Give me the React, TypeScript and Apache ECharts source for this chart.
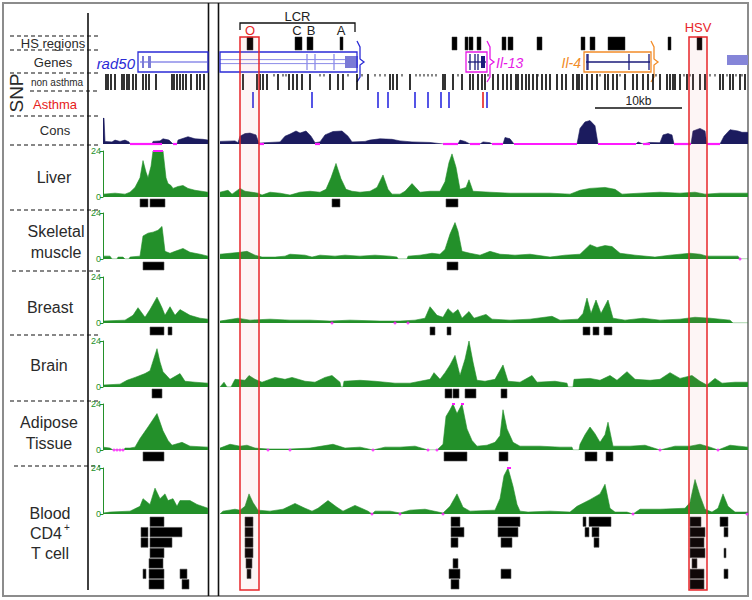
import React, { useEffect, useRef } from "react";
import * as echarts from "echarts";

// Genomic positions are in bins of 115 bp (10 kb = 87 bins).
const LEFT_SPAN = 105;
const RIGHT_SPAN = 528;
const SCALE_BAR = [375, 462];
const SCALE_LABEL = "10kb";

const HS_REGIONS = [[27,33],[75,82],[87,93],[120,123],[232,237],[245,248],[249,253],[257,261],[282,286],[288,293],[317,322],[361,365],[370,375],[388,405],[448,451],[477,482]];
const HS_SITE_POS = [30, 77, 91, 121];
const HS_SITE_NAMES = ["O", "C", "B", "A"];
const LCR_RANGE = [20, 135];
const HIGHLIGHTS = [[20, 39], [469, 487]];
const HIGHLIGHT_NAMES = ["", "HSV"];

const SNP_LEFT = [3,5,8,12,19,21,24,26,30,33,40,43,46,53,69,71,74,77,80,83,88,94,97,101];
const SNP_RIGHT = [23,37,40,43,47,58,69,73,77,82,90,110,118,123,137,148,170,173,177,190,223,225,233,242,250,253,258,262,265,273,278,283,287,291,296,298,302,306,309,313,317,322,326,330,337,342,346,353,357,359,362,367,372,377,385,388,393,397,405,413,417,423,428,433,440,447,450,453,455,460,467,473,480,485,500,503,510,513,520,525];
const SNP_RIGHT_MINOR = [54,63,66,100,104,128,142,155,160,165,182,196,200,204,208,212,216,238,268,318,380,400,436,464,470,490,495,507,516,522];
const ASTHMA_SNP = [33, 92, 158, 168, 195, 208, 221, 229, 267];
const ASTHMA_SNP_LEAD = [263];

const CONS_L = [[0,1],[1,1],[2,0.1],[9,0.08],[12,0.15],[17,0.1],[22,0.15],[26,0.08],[27,0],[49,0],[50,0.1],[57,0.12],[60,0.2],[66,0.15],[70,0],[74,0],[75,0.15],[85,0.28],[92,0.2],[100,0.18],[105,0.15]];
const CONS_R = [[0,0.1],[15,0.12],[18,0.05],[20,0.3],[25,0.4],[30,0.42],[36,0.35],[39,0.03],[45,0.05],[60,0.08],[65,0.3],[70,0.38],[76,0.5],[80,0.42],[86,0.5],[91,0.3],[95,0.05],[100,0.08],[105,0.35],[113,0.48],[122,0.5],[128,0.3],[132,0.08],[145,0.1],[150,0.15],[160,0.2],[172,0.18],[180,0.12],[192,0.08],[210,0.06],[223,0],[238,0],[240,0.15],[245,0.1],[250,0],[260,0],[263,0.08],[270,0.05],[272,0],[283,0],[285,0.25],[290,0.2],[294,0],[357,0],[360,0.6],[365,0.85],[370,0.9],[375,0.7],[378,0],[416,0],[418,0.08],[423,0],[430,0.06],[440,0.05],[443,0.35],[448,0.4],[452,0.35],[454,0],[471,0],[473,0.5],[480,0.6],[485,0.5],[487,0],[500,0],[504,0.3],[510,0.55],[518,0.5],[522,0.45],[528,0.45]];
const CONS_GAPS_L = [[27,49],[49,59],[70,74]];
const CONS_GAPS_R = [[39,44],[95,100],[223,238],[250,260],[272,283],[294,357],[378,416],[423,430],[454,471],[487,500]];

const LIVER_L = [[0,1.5],[12,2],[22,1.5],[27,2.5],[32,5],[37,10],[40,19],[43,13],[45,10],[48,16],[50,24],[55,24],[60,24],[63,10],[65,7],[68,6],[70,4.5],[75,5.5],[80,6],[85,4.5],[92,3.5],[105,2.5]];
const LIVER_R = [[0,2.5],[8,3.5],[12,1.5],[20,4.5],[25,3],[38,2],[42,1],[50,2.5],[60,2],[70,1],[80,2.5],[90,3],[100,2.5],[106,4],[111,10],[116,17.5],[121,9.5],[126,4],[132,3],[140,2.5],[150,3],[157,5],[163,11.5],[168,4],[172,1.5],[180,1.5],[185,3],[192,7],[200,2.5],[210,3],[220,3],[225,8],[229,18],[232,22.5],[236,15.5],[240,4],[246,5],[249,9],[253,3],[270,2.5],[290,2],[310,2],[330,2],[350,1.5],[360,3.5],[370,4.5],[385,5],[395,4],[402,1.5],[420,2],[440,2.5],[460,2],[475,2.5],[485,1.5],[500,2],[528,2]];
const SKEL_L = [[0,1.5],[7,1.5],[9,0],[14,0],[15,1],[20,1],[22,0],[26,0],[27,1],[37,1.5],[40,12],[45,13.5],[50,14],[55,15],[59,17],[62,4],[67,3],[72,4],[80,5.5],[87,3.5],[97,2.5],[105,1.5]];
const SKEL_R = [[0,2.5],[10,3],[20,3.5],[27,4],[35,2],[42,1],[55,1],[65,1.5],[70,2.5],[85,2],[92,1],[100,2],[115,1.5],[125,2],[140,1.5],[155,2],[170,1.5],[177,1],[178,0],[187,0],[188,1.5],[200,2],[212,3],[220,2.5],[225,5],[230,13],[235,19],[238,14.5],[242,4],[250,3],[260,2],[270,4],[280,2.5],[295,2],[310,2.5],[330,1],[345,2],[360,2.5],[370,7.5],[377,6],[385,7],[392,6.5],[400,3],[415,2],[435,1],[450,2],[470,3],[480,2.5],[487,1.5],[500,1.5],[518,1.5],[520,0],[528,0]];
const BREAST_L = [[0,1],[22,1.5],[30,4],[35,8],[42,3],[47,7],[54,13.5],[59,8],[62,4],[67,8.5],[72,4],[77,7],[87,4],[97,2.5],[105,2]];
const BREAST_R = [[0,1],[18,2.5],[30,1.5],[50,2],[70,1.5],[90,1.5],[110,1],[130,1.5],[160,1],[180,1],[195,1.5],[205,2.5],[210,8.5],[217,4],[223,3],[228,7.5],[233,5],[238,7],[242,2.5],[249,6],[254,2.5],[266,4.5],[272,2],[290,1.5],[310,2],[332,3.5],[340,1.5],[358,2],[363,5],[367,13],[371,5],[376,12],[381,5],[388,12],[393,2.5],[405,1.5],[423,2.5],[440,1.5],[460,2],[475,3],[490,2.5],[510,1.5],[513,0],[528,0]];
const BRAIN_L = [[0,1],[17,1.5],[24,3.5],[32,5],[42,7],[47,8.5],[54,20],[57,13],[60,8],[67,4],[77,7],[82,3],[92,2.5],[105,2]];
const BRAIN_R = [[0,0],[4,2.5],[7,0],[11,0],[15,4],[25,3.5],[29,6],[35,4],[42,2.5],[55,5],[65,4],[72,5],[85,3],[95,2.5],[105,5],[112,6],[120,2.5],[121,0],[123,0],[124,3],[140,3.5],[155,3],[165,2.5],[175,2],[190,2],[200,3],[210,4],[214,7.5],[220,4],[225,7.5],[230,11.5],[235,16.5],[240,6],[245,14.5],[249,24],[253,13],[257,3.5],[265,3],[275,4],[283,11.5],[288,3],[300,2.5],[312,6],[317,2.5],[335,3],[347,2],[348,0],[353,0],[354,4],[370,4.5],[380,3.5],[390,6],[397,3.5],[407,8],[415,4],[430,3.5],[440,4],[450,7.5],[460,4.5],[472,6],[480,3],[487,1],[495,4.5],[502,2],[515,2.5],[528,2.5]];
const ADIPOSE_L = [[0,1.5],[7,1],[10,0],[21,0],[22,1],[27,1],[32,1.5],[37,6],[45,12],[54,19],[60,10],[65,5],[69,2.5],[79,4],[87,2],[105,1.5]];
const ADIPOSE_R = [[0,1],[10,3],[20,2],[27,2.5],[35,1],[48,0.5],[70,0.5],[90,1],[113,3],[125,1],[140,1.5],[153,0],[165,1.5],[180,1.5],[195,2],[208,0],[217,0],[223,3],[226,17.5],[230,21],[233,24],[237,19],[242,24],[247,11],[252,5],[257,2],[267,2.5],[275,4],[280,7.5],[283,21],[287,11],[293,4],[300,2],[320,2],[340,1.5],[352,1.5],[353,0],[359,0],[360,3],[365,8],[370,12],[375,8.5],[380,4],[385,8],[388,14.5],[393,2],[410,2],[425,2.5],[440,0],[455,2],[470,2],[480,3],[490,1.5],[498,0],[510,2.5],[528,1.5]];
const BLOOD_L = [[0,0.5],[7,1],[27,1.5],[37,4],[40,8],[47,5],[52,13.5],[57,8],[62,10.5],[65,7],[70,8],[74,4],[77,7],[87,7],[94,5],[105,3]];
const BLOOD_R = [[0,0],[3,1.5],[15,2.5],[20,2],[25,4],[29,10.5],[33,6],[38,2],[50,1.5],[63,2.5],[75,5.5],[85,3],[92,1.5],[98,3],[108,7],[117,3.5],[123,1.5],[135,4.5],[148,1.5],[152,0],[155,1.5],[170,1.5],[180,0.5],[190,2],[205,2.5],[223,0.5],[230,4],[237,10.5],[243,3.5],[250,1.5],[275,2],[280,8],[284,20],[288,24],[293,14.5],[297,5],[300,1.5],[308,1],[330,1.5],[350,1],[357,4],[370,7.5],[380,10.5],[385,15.5],[390,3],[395,1],[407,1],[413,0],[420,2.5],[440,2.5],[465,3],[470,6],[475,18],[480,9.5],[485,2.5],[492,1],[498,3],[503,10.5],[508,4],[515,1],[528,1]];

// [start, end, row]
const LIVER_PEAKS_L = [[37,45,0],[47,62,0]];
const LIVER_PEAKS_R = [[112,120,0],[226,238,0]];
const SKEL_PEAKS_L = [[40,61,0]];
const SKEL_PEAKS_R = [[227,238,0]];
const BREAST_PEAKS_L = [[47,61,0],[65,69,0]];
const BREAST_PEAKS_R = [[210,215,0],[227,231,0],[363,370,0],[373,379,0],[384,392,0]];
const BRAIN_PEAKS_L = [[49,59,0]];
const BRAIN_PEAKS_R = [[225,232,0],[233,239,0],[245,256,0],[281,287,0]];
const ADIPOSE_PEAKS_L = [[40,61,0]];
const ADIPOSE_PEAKS_R = [[224,247,0],[279,288,0],[365,377,0],[386,393,0]];
const BLOOD_PEAKS_L = [[47,61,0],[38,45,1],[47,79,1],[38,45,2],[47,69,2],[47,61,3],[46,60,4],[40,43,5],[46,61,5],[77,84,5],[46,61,6],[79,86,6]];
const BLOOD_PEAKS_R = [[25,33,0],[231,240,0],[278,300,0],[363,366,0],[369,391,0],[470,481,0],[500,508,0],
  [25,33,1],[231,244,1],[278,298,1],[365,369,1],[372,379,1],[470,485,1],[504,508,1],
  [25,33,2],[231,238,2],[281,292,2],[374,379,2],[470,484,2],
  [25,33,3],[470,485,3],[504,506,3],
  [26,32,4],[233,238,4],[472,477,4],
  [27,31,5],[229,240,5],[281,291,5],[470,484,5],[504,508,5],
  [231,239,6],[470,484,6]];

const ZERO_MARKS_R = [[], [520], [112, 175, 188], [], [48, 70, 153, 208, 217, 440, 498], [152, 180, 223, 413, 527]];
const ZERO_MARKS_L = [[], [], [], [], [11, 14, 17, 20], []];
const CLIPPED_L = [[[50, 60]], [], [], [], [], []];
const CLIPPED_R = [[], [], [], [], [[232, 235], [241, 244]], [[287, 291]]];

const TISSUE_NAMES = ["Liver", "Skeletal muscle", "Breast", "Brain", "Adipose Tissue", "Blood CD4+ T cell"];
const SIGNALS_L = [LIVER_L, SKEL_L, BREAST_L, BRAIN_L, ADIPOSE_L, BLOOD_L];
const SIGNALS_R = [LIVER_R, SKEL_R, BREAST_R, BRAIN_R, ADIPOSE_R, BLOOD_R];
const PEAKS_L = [LIVER_PEAKS_L, SKEL_PEAKS_L, BREAST_PEAKS_L, BRAIN_PEAKS_L, ADIPOSE_PEAKS_L, BLOOD_PEAKS_L];
const PEAKS_R = [LIVER_PEAKS_R, SKEL_PEAKS_R, BREAST_PEAKS_R, BRAIN_PEAKS_R, ADIPOSE_PEAKS_R, BLOOD_PEAKS_R];
const SIGNAL_MAX = 24;

const GENES_L = [{ name: "rad50", start: 35, end: 105, exons: [[39, 41], [45, 48]], marks: [] as number[], lines: 1, box: true, arrow: false, label: true }];
const GENES_R = [
  { name: "rad50", start: 0, end: 137, exons: [[125, 138]], marks: [87, 95, 114], lines: 2, box: true, arrow: true, label: false },
  { name: "Il-13", start: 246, end: 267, exons: [[261, 265]], marks: [250, 255, 258], lines: 1, box: true, arrow: true, label: true },
  { name: "Il-4", start: 364, end: 431, exons: [] as number[][], marks: [367, 368, 409, 429], lines: 1, box: true, arrow: true, label: true },
  { name: "", start: 507, end: 528, exons: [[507, 528]], marks: [] as number[], lines: 0, box: false, arrow: false, label: false },
];

// ---------- styling ----------
const FONT = "'Liberation Sans', Arial, sans-serif";
const GREEN = "#23902a";
const NAVY = "#1b1b5e";
const MAGENTA = "#ff1aff";
const RED = "#e8262a";
const GENE_STYLE: any = {
  rad50: { box: "#2b2bd6", inner: "#8c8ce8", exon: "#7a7ad6", label: "#2b2bd6", side: "left" },
  "Il-13": { box: "#e619e6", inner: "#1b1b7a", exon: "#1b1b7a", label: "#e619e6", side: "right" },
  "Il-4": { box: "#f28c28", inner: "#1b1b7a", exon: "#1b1b7a", label: "#f28c28", side: "left" },
  "": { box: "#7b7bd8", inner: "#7b7bd8", exon: "#8585d8", label: "#7b7bd8", side: "right" },
};
const PANEL: any = { L: { left: 103, width: 105, span: LEFT_SPAN }, R: { left: 220, width: 528, span: RIGHT_SPAN } };
const SIG_TOPS = [151, 213, 277, 341, 404, 468];
const SIG_H = 46;
const BLOCK_TOPS = [199, 262, 327, 389, 452, 517];
const BLOCK_H = [9, 9, 9, 10, 10, 73];
const BLOCK_ROWS = [1, 1, 1, 1, 1, 7];

function buildOption() {
  const grid: any[] = [], xAxis: any[] = [], yAxis: any[] = [], series: any[] = [];
  const addGrid = (panel: string, top: number, height: number, y: any = {}) => {
    const p = PANEL[panel];
    const i = grid.length;
    grid.push({ left: p.left, top, width: p.width, height, containLabel: false, outerBoundsMode: "none", show: false });
    xAxis.push({ type: "value", gridIndex: i, min: 0, max: p.span, show: false });
    yAxis.push(Object.assign({ type: "value", gridIndex: i, min: 0, max: 1, show: false, splitLine: { show: false } }, y));
    return i;
  };
  const on = (i: number) => ({ xAxisIndex: i, yAxisIndex: i, silent: true });

  const rectRender = (fill: string, stroke: string) => (params: any, api: any) => {
    const a = api.coord([api.value(0), 1]);
    const b = api.coord([api.value(1), 0]);
    return { type: "rect", shape: { x: a[0], y: a[1], width: Math.max(1.5, b[0] - a[0]), height: b[1] - a[1] }, style: { fill, stroke, lineWidth: 0.5 } };
  };
  const tickRender = (color: string, len: number, w: number) => (params: any, api: any) => {
    const a = api.coord([api.value(0), 1]);
    const b = api.coord([api.value(0), 1 - len]);
    return { type: "line", shape: { x1: a[0], y1: a[1], x2: b[0], y2: b[1] }, style: { stroke: color, lineWidth: w } };
  };
  const blockRender = (params: any, api: any) => {
    const r = api.value(2);
    const a = api.coord([api.value(0), r]);
    const b = api.coord([api.value(1), r + 1]);
    return { type: "rect", shape: { x: a[0], y: a[1], width: Math.max(2, b[0] - a[0]), height: b[1] - a[1] - 1 }, style: { fill: "#000", stroke: "#555", lineWidth: 0.6 } };
  };
  const segRender = (color: string, w: number, level: number) => (params: any, api: any) => {
    const a = api.coord([api.value(0), level]);
    const b = api.coord([api.value(1), level]);
    return { type: "line", shape: { x1: a[0], y1: a[1], x2: b[0], y2: b[1] }, style: { stroke: color, lineWidth: w } };
  };
  const geneRender = (genes: any[]) => (params: any, api: any) => {
    const g = genes[api.value(2)];
    const st = GENE_STYLE[g.name];
    const cs = params.coordSys;
    const X = (b: number) => api.coord([b, 0])[0];
    const yT = cs.y, h = cs.height, yB = cs.y + h, yM = cs.y + h / 2;
    const ch: any[] = [];
    const x0 = X(g.start), x1 = X(g.end);
    if (g.lines === 1) ch.push({ type: "line", shape: { x1: x0 + 2, y1: yM, x2: x1 - 1, y2: yM }, style: { stroke: st.inner, lineWidth: 1.3 } });
    if (g.lines === 2) {
      const xe = g.exons.length ? X(g.exons[0][0]) : x1;
      [0.38, 0.58].forEach((f) => ch.push({ type: "line", shape: { x1: x0, y1: yT + h * f, x2: xe, y2: yT + h * f }, style: { stroke: st.inner, lineWidth: 1 } }));
    }
    g.marks.forEach((m: number) => ch.push({ type: "line", shape: { x1: X(m), y1: yT + 2, x2: X(m), y2: yB - 2 }, style: { stroke: st.inner, lineWidth: 1.3 } }));
    g.exons.forEach((e: number[]) => {
      const f0 = g.box ? 0.2 : 0.15, f1 = g.box ? 0.8 : 0.65;
      ch.push({ type: "rect", shape: { x: X(e[0]), y: yT + h * f0, width: X(e[1]) - X(e[0]), height: h * (f1 - f0) }, style: { fill: st.exon } });
    });
    if (g.box) ch.push({ type: "rect", shape: { x: x0, y: yT, width: x1 - x0, height: h }, style: { fill: "none", stroke: st.box, lineWidth: 1.3 } });
    if (g.arrow) {
      const xe = x1;
      ch.push({ type: "polyline", shape: { points: [[xe, yT - 11], [xe + 3, yT - 5], [xe + 3, yM - 3], [xe + 7, yM], [xe + 3, yM + 3], [xe + 3, yB + 5], [xe, yB + 10]] }, style: { stroke: st.box, lineWidth: 1.3, fill: "none" } });
    }
    if (g.label) {
      const left = st.side === "left";
      ch.push({ type: "text", x: left ? x0 - 3 : x1 + 9, y: yM + 1, style: { text: g.name, font: `italic ${g.name === "rad50" ? 15 : 14}px ${FONT}`, fill: st.label, align: left ? "right" : "left", verticalAlign: "middle", textAlign: left ? "right" : "left", textVerticalAlign: "middle" } });
    }
    return { type: "group", children: ch };
  };

  // ---- top labels (LCR, HS sites) ----
  const gTop = addGrid("R", 8, 28);
  series.push({ type: "custom", ...on(gTop), data: [LCR_RANGE], encode: { x: [0, 1] }, renderItem: (params: any, api: any) => {
    const cs = params.coordSys;
    const a = api.coord([api.value(0), 0])[0], b = api.coord([api.value(1), 0])[0];
    const y = cs.y + 15;
    return { type: "group", children: [
      { type: "polyline", shape: { points: [[a, y + 7], [a, y], [b, y], [b, y + 9]] }, style: { stroke: "#111", lineWidth: 1.3, fill: "none" } },
      { type: "text", x: (a + b) / 2, y: cs.y + 8, style: { text: "LCR", font: `13px ${FONT}`, fill: "#222", align: "center", verticalAlign: "middle", textAlign: "center", textVerticalAlign: "middle" } },
    ] };
  } });
  series.push({ type: "custom", ...on(gTop), data: HS_SITE_POS.map((p) => [p, 0]), encode: { x: 0, y: 1 }, renderItem: (params: any, api: any) => {
    const cs = params.coordSys;
    const x = api.coord([api.value(0), 0])[0];
    const name = HS_SITE_NAMES[params.dataIndex];
    return { type: "text", x, y: cs.y + 22, style: { text: name, font: `13px ${FONT}`, fill: name === "O" ? RED : "#222", align: "center", verticalAlign: "middle", textAlign: "center", textVerticalAlign: "middle" } };
  } });
  series.push({ type: "custom", ...on(gTop), data: HIGHLIGHTS, encode: { x: [0, 1] }, renderItem: (params: any, api: any) => {
    const cs = params.coordSys;
    const x = (api.coord([api.value(0), 0])[0] + api.coord([api.value(1), 0])[0]) / 2;
    return { type: "text", x, y: cs.y + 19, style: { text: HIGHLIGHT_NAMES[params.dataIndex], font: `13px ${FONT}`, fill: RED, align: "center", verticalAlign: "middle", textAlign: "center", textVerticalAlign: "middle" } };
  } });

  // ---- HS regions ----
  const gHs = addGrid("R", 37, 13);
  series.push({ type: "custom", ...on(gHs), data: HS_REGIONS, encode: { x: [0, 1] }, renderItem: rectRender("#000", "#333") });

  // ---- genes ----
  const gGenesL = addGrid("L", 52, 20);
  series.push({ type: "custom", ...on(gGenesL), data: GENES_L.map((g, i) => [g.start, g.end, i]), encode: { x: [0, 1] }, renderItem: geneRender(GENES_L) });
  const gGenesR = addGrid("R", 52, 20);
  series.push({ type: "custom", ...on(gGenesR), data: GENES_R.map((g, i) => [g.start, g.end, i]), encode: { x: [0, 1] }, renderItem: geneRender(GENES_R) });

  // ---- SNPs ----
  const gSnpL = addGrid("L", 74, 16);
  series.push({ type: "custom", ...on(gSnpL), data: SNP_LEFT.map((p) => [p, 1]), encode: { x: 0, y: 1 }, renderItem: tickRender("#000", 1, 1.6) });
  const gSnpR = addGrid("R", 74, 16);
  series.push({ type: "custom", ...on(gSnpR), data: SNP_RIGHT.map((p) => [p, 1]), encode: { x: 0, y: 1 }, renderItem: tickRender("#000", 1, 1.6) });
  series.push({ type: "custom", ...on(gSnpR), data: SNP_RIGHT_MINOR.map((p) => [p, 1]), encode: { x: 0, y: 1 }, renderItem: tickRender("#333", 0.15, 1.2) });
  const gAsR = addGrid("R", 92, 16);
  series.push({ type: "custom", ...on(gAsR), data: ASTHMA_SNP.map((p) => [p, 1]), encode: { x: 0, y: 1 }, renderItem: tickRender("#2a2ae0", 1, 1.6) });
  series.push({ type: "custom", ...on(gAsR), data: ASTHMA_SNP_LEAD.map((p) => [p, 1]), encode: { x: 0, y: 1 }, renderItem: tickRender("#e62020", 1, 1.6) });
  series.push({ type: "custom", ...on(gAsR), data: [SCALE_BAR], encode: { x: [0, 1] }, renderItem: (params: any, api: any) => {
    const cs = params.coordSys;
    const a = api.coord([api.value(0), 0])[0], b = api.coord([api.value(1), 0])[0];
    const y = cs.y + cs.height;
    return { type: "group", children: [
      { type: "line", shape: { x1: a, y1: y, x2: b, y2: y }, style: { stroke: "#111", lineWidth: 1.3 } },
      { type: "text", x: (a + b) / 2, y: y - 7, style: { text: SCALE_LABEL, font: `12px ${FONT}`, fill: "#222", align: "center", verticalAlign: "middle", textAlign: "center", textVerticalAlign: "middle" } },
    ] };
  } });

  // ---- conservation ----
  ([["L", CONS_L, CONS_GAPS_L], ["R", CONS_R, CONS_GAPS_R]] as any[]).forEach(([p, d, gaps]) => {
    const gi = addGrid(p, 118, 26);
    series.push({ type: "line", ...on(gi), data: d, symbol: "none", lineStyle: { color: NAVY, width: 0.6 }, areaStyle: { color: NAVY, opacity: 1 }, z: 2 });
    series.push({ type: "custom", ...on(gi), data: gaps, encode: { x: [0, 1] }, renderItem: segRender(MAGENTA, 2.2, 0), z: 3 });
  });

  // ---- tissues ----
  for (let t = 0; t < 6; t++) {
    ["L", "R"].forEach((p) => {
      const left = p === "L";
      const gi = addGrid(p, SIG_TOPS[t], SIG_H, left ? {
        show: true, min: 0, max: SIGNAL_MAX, interval: SIGNAL_MAX,
        axisLine: { show: true, lineStyle: { color: GREEN, width: 1 } },
        axisTick: { show: true, length: 3, lineStyle: { color: GREEN } },
        axisLabel: { show: true, fontSize: 9, color: GREEN, margin: 2, fontFamily: FONT },
        splitLine: { show: false },
      } : { min: 0, max: SIGNAL_MAX });
      series.push({ type: "line", ...on(gi), data: left ? SIGNALS_L[t] : SIGNALS_R[t], symbol: "none", lineStyle: { color: GREEN, width: 0.6 }, areaStyle: { color: GREEN, opacity: 1 }, z: 2 });
      const zeros = left ? ZERO_MARKS_L[t] : ZERO_MARKS_R[t];
      if (zeros.length) series.push({ type: "scatter", ...on(gi), data: zeros.map((z) => [z, 0]), symbolSize: 3, itemStyle: { color: MAGENTA }, z: 3 });
      const clips = left ? CLIPPED_L[t] : CLIPPED_R[t];
      if (clips.length) series.push({ type: "custom", ...on(gi), data: clips, encode: { x: [0, 1] }, renderItem: segRender(MAGENTA, 2, SIGNAL_MAX), z: 3 });
      const gb = addGrid(p, BLOCK_TOPS[t], BLOCK_H[t], { min: 0, max: BLOCK_ROWS[t], inverse: true });
      series.push({ type: "custom", ...on(gb), data: left ? PEAKS_L[t] : PEAKS_R[t], encode: { x: [0, 1], y: 2 }, renderItem: blockRender });
    });
  }

  // ---- highlighted regions ----
  const gOv = addGrid("R", 37, 553);
  series.push({ type: "custom", ...on(gOv), data: HIGHLIGHTS, encode: { x: [0, 1] }, z: 20, renderItem: (params: any, api: any) => {
    const a = api.coord([api.value(0), 1]);
    const b = api.coord([api.value(1), 0]);
    return { type: "rect", shape: { x: a[0], y: a[1], width: b[0] - a[0], height: b[1] - a[1] }, style: { fill: "rgba(220,120,120,0.07)", stroke: RED, lineWidth: 1.5 } };
  } });

  // ---- frame & labels ----
  const txt = (text: string, x: number, y: number, size: number, color = "#2a2a2a", extra: any = {}) => ({
    type: "text", x, y, silent: true, ...extra,
    style: { text, font: `${size}px ${FONT}`, fill: color, align: "center", verticalAlign: "middle", textAlign: "center", textVerticalAlign: "middle" },
  });
  const dashed = (y: number, x1 = 10, x2 = 100) => ({ type: "line", silent: true, shape: { x1, y1: y, x2, y2: y }, style: { stroke: "#111", lineWidth: 1.2, lineDash: [4, 3] } });
  const vline = (x: number, y1: number, y2: number) => ({ type: "line", silent: true, shape: { x1: x, y1, x2: x, y2 }, style: { stroke: "#111", lineWidth: 1.6 } });
  const graphic = [
    { type: "rect", silent: true, shape: { x: 3, y: 3, width: 745, height: 593 }, style: { fill: "none", stroke: "#8c8c8c", lineWidth: 2 } },
    vline(88, 13, 590), vline(208.5, 3, 596), vline(218.5, 3, 596),
    dashed(36), dashed(50), dashed(73), dashed(91, 30), dashed(116), dashed(145), dashed(210), dashed(271, 12), dashed(335), dashed(401), dashed(466, 14),
    txt("HS regions", 53, 43, 13),
    txt("Genes", 53, 62, 13),
    txt("SNP", 16, 93, 19, "#2a2a2a", { rotation: Math.PI / 2 }),
    txt("non asthma", 57, 82, 10),
    txt("Asthma", 55, 104, 13, "#e62020"),
    txt("Cons", 55, 130, 13),
    txt("Liver", 54, 177, 16),
    txt("Skeletal", 56, 231, 16), txt("muscle", 56, 252, 16),
    txt("Breast", 50, 307, 16),
    txt("Brain", 49, 365, 16),
    txt("Adipose", 49, 422, 16), txt("Tissue", 49, 443, 16),
    txt("Blood", 50, 513, 16), txt("CD4", 46, 533, 16), txt("+", 67, 527, 10), txt("T cell", 50, 553, 16),
  ];
  return { animation: false, backgroundColor: "#fff", grid, xAxis, yAxis, series, graphic };
}

export default function App() {
  const ref = useRef<HTMLDivElement>(null);
  useEffect(() => {
    if (!ref.current) return;
    const chart = echarts.init(ref.current, null, { renderer: "svg" });
    chart.setOption(buildOption() as any);
    return () => chart.dispose();
  }, []);
  return <div ref={ref} style={{ position: "absolute", left: 0, top: 0, width: 752, height: 600 }} />;
}
